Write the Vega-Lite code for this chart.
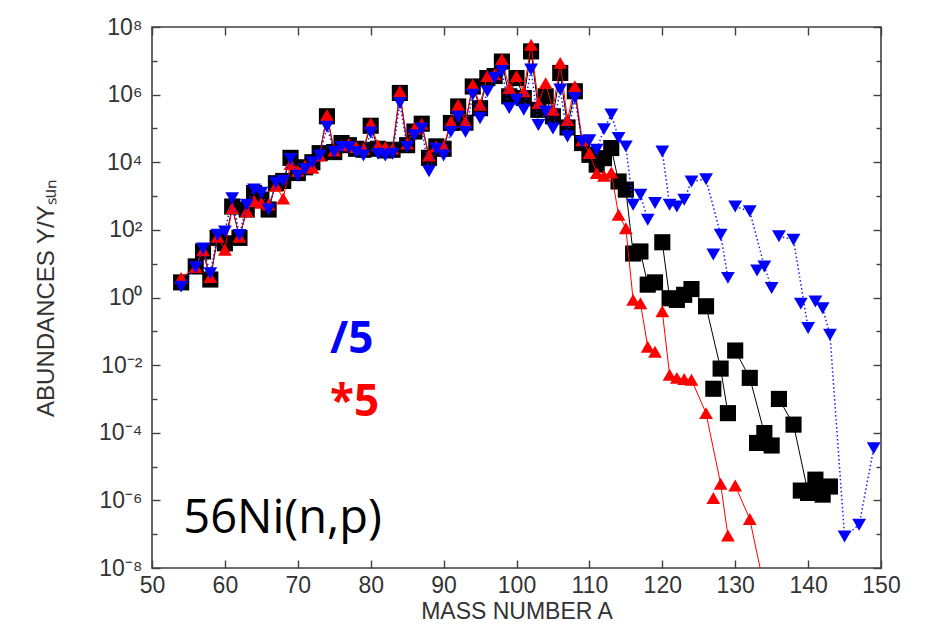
{
  "$schema": "https://vega.github.io/schema/vega-lite/v6.json",
  "width": 729,
  "height": 541,
  "autosize": "none",
  "padding": {"left": 152, "top": 27, "right": 56, "bottom": 61},
  "background": "white",
  "config": {
    "view": {"stroke": "#404040", "strokeWidth": 1.6},
    "font": "Liberation Sans"
  },
  "datasets": {
    "abund": [
      {"A":54,"Y":2.8,"s":"std","c":1},{"A":56,"Y":8.3,"s":"std","c":1},{"A":57,"Y":23,"s":"std","c":1},{"A":58,"Y":3.4,"s":"std","c":1},
      {"A":59,"Y":58,"s":"std","c":1},{"A":60,"Y":40,"s":"std","c":1},{"A":61,"Y":490,"s":"std","c":1},{"A":62,"Y":58,"s":"std","c":1},
      {"A":63,"Y":400,"s":"std","c":1},{"A":64,"Y":1230,"s":"std","c":1},{"A":65,"Y":790,"s":"std","c":1},{"A":66,"Y":400,"s":"std","c":1},
      {"A":67,"Y":2400,"s":"std","c":1},{"A":68,"Y":2800,"s":"std","c":1},{"A":69,"Y":13500,"s":"std","c":1},{"A":70,"Y":4800,"s":"std","c":1},
      {"A":71,"Y":7100,"s":"std","c":1},{"A":72,"Y":10000,"s":"std","c":1},{"A":73,"Y":18600,"s":"std","c":1},{"A":74,"Y":229000,"s":"std","c":1},
      {"A":75,"Y":20000,"s":"std","c":1},{"A":76,"Y":37000,"s":"std","c":1},{"A":77,"Y":32000,"s":"std","c":1},{"A":78,"Y":25000,"s":"std","c":1},
      {"A":79,"Y":23400,"s":"std","c":1},{"A":80,"Y":120000,"s":"std","c":1},{"A":81,"Y":25000,"s":"std","c":1},{"A":82,"Y":22400,"s":"std","c":1},
      {"A":83,"Y":23400,"s":"std","c":1},{"A":84,"Y":1120000,"s":"std","c":1},{"A":85,"Y":32000,"s":"std","c":1},{"A":86,"Y":81000,"s":"std","c":1},
      {"A":87,"Y":138000,"s":"std","c":1},{"A":88,"Y":13500,"s":"std","c":1},{"A":89,"Y":29500,"s":"std","c":1},{"A":90,"Y":25000,"s":"std","c":1},
      {"A":91,"Y":145000,"s":"std","c":1},{"A":92,"Y":447000,"s":"std","c":1},{"A":93,"Y":148000,"s":"std","c":1},{"A":94,"Y":1740000,"s":"std","c":1},
      {"A":95,"Y":398000,"s":"std","c":1},{"A":96,"Y":3090000,"s":"std","c":1},{"A":97,"Y":3550000,"s":"std","c":1},{"A":98,"Y":9500000,"s":"std","c":1},
      {"A":99,"Y":891000,"s":"std","c":1},{"A":100,"Y":3090000,"s":"std","c":1},{"A":101,"Y":794000,"s":"std","c":1},{"A":102,"Y":19000000,"s":"std","c":1},
      {"A":103,"Y":355000,"s":"std","c":1},{"A":104,"Y":891000,"s":"std","c":1},{"A":105,"Y":229000,"s":"std","c":1},{"A":106,"Y":4370000,"s":"std","c":1},
      {"A":107,"Y":107000,"s":"std","c":1},{"A":108,"Y":1260000,"s":"std","c":1},{"A":109,"Y":37000,"s":"std","c":1},{"A":110,"Y":16600,"s":"std","c":1},
      {"A":111,"Y":8500,"s":"std","c":1},{"A":112,"Y":13200,"s":"std","c":1},{"A":113,"Y":26300,"s":"std","c":1},{"A":114,"Y":2700,"s":"std","c":1},
      {"A":115,"Y":1550,"s":"std","c":1},{"A":116,"Y":20,"s":"std","c":1},{"A":117,"Y":23,"s":"std","c":2},{"A":118,"Y":2.4,"s":"std","c":2},
      {"A":119,"Y":2.8,"s":"std","c":3},{"A":120,"Y":43,"s":"std","c":4},{"A":121,"Y":0.95,"s":"std","c":4},{"A":122,"Y":0.85,"s":"std","c":4},
      {"A":123,"Y":1.2,"s":"std","c":4},{"A":124,"Y":1.78,"s":"std","c":4},{"A":126,"Y":0.55,"s":"std","c":4},{"A":127,"Y":0.002,"s":"std","c":5},
      {"A":128,"Y":0.0079,"s":"std","c":4},{"A":129,"Y":0.00038,"s":"std","c":4},{"A":130,"Y":0.027,"s":"std","c":6},{"A":132,"Y":0.0042,"s":"std","c":6},
      {"A":133,"Y":0.00005,"s":"std","c":7},{"A":134,"Y":0.000098,"s":"std","c":6},{"A":135,"Y":0.000042,"s":"std","c":6},{"A":136,"Y":0.001,"s":"std","c":8},
      {"A":138,"Y":0.000174,"s":"std","c":8},{"A":139,"Y":0.00000195,"s":"std","c":9},{"A":140,"Y":0.00000166,"s":"std","c":8},{"A":141,"Y":0.0000041,"s":"std","c":10},
      {"A":142,"Y":0.00000148,"s":"std","c":8},{"A":143,"Y":0.00000257,"s":"std","c":11},

      {"A":54,"Y":3.8,"s":"x5","c":1},{"A":56,"Y":7.9,"s":"x5","c":1},{"A":57,"Y":25,"s":"x5","c":1},{"A":58,"Y":4,"s":"x5","c":1},
      {"A":59,"Y":63,"s":"x5","c":1},{"A":60,"Y":26,"s":"x5","c":1},{"A":61,"Y":440,"s":"x5","c":1},{"A":62,"Y":63,"s":"x5","c":1},
      {"A":63,"Y":355,"s":"x5","c":1},{"A":64,"Y":710,"s":"x5","c":1},{"A":65,"Y":630,"s":"x5","c":1},{"A":66,"Y":560,"s":"x5","c":1},
      {"A":67,"Y":2000,"s":"x5","c":1},{"A":68,"Y":850,"s":"x5","c":1},{"A":69,"Y":8900,"s":"x5","c":1},{"A":70,"Y":5600,"s":"x5","c":1},
      {"A":71,"Y":7900,"s":"x5","c":1},{"A":72,"Y":6900,"s":"x5","c":1},{"A":73,"Y":15800,"s":"x5","c":1},{"A":74,"Y":251000,"s":"x5","c":1},
      {"A":75,"Y":22400,"s":"x5","c":1},{"A":76,"Y":31600,"s":"x5","c":1},{"A":77,"Y":35500,"s":"x5","c":1},{"A":78,"Y":28200,"s":"x5","c":1},
      {"A":79,"Y":25100,"s":"x5","c":1},{"A":80,"Y":141000,"s":"x5","c":1},{"A":81,"Y":31600,"s":"x5","c":1},{"A":82,"Y":28200,"s":"x5","c":1},
      {"A":83,"Y":25100,"s":"x5","c":1},{"A":84,"Y":1260000,"s":"x5","c":1},{"A":85,"Y":35500,"s":"x5","c":1},{"A":86,"Y":100000,"s":"x5","c":1},
      {"A":87,"Y":138000,"s":"x5","c":1},{"A":88,"Y":15800,"s":"x5","c":1},{"A":89,"Y":29500,"s":"x5","c":1},{"A":90,"Y":29500,"s":"x5","c":1},
      {"A":91,"Y":158000,"s":"x5","c":1},{"A":92,"Y":501000,"s":"x5","c":1},{"A":93,"Y":158000,"s":"x5","c":1},{"A":94,"Y":2000000,"s":"x5","c":1},
      {"A":95,"Y":501000,"s":"x5","c":1},{"A":96,"Y":3550000,"s":"x5","c":1},{"A":97,"Y":3980000,"s":"x5","c":1},{"A":98,"Y":11200000,"s":"x5","c":1},
      {"A":99,"Y":1580000,"s":"x5","c":1},{"A":100,"Y":3550000,"s":"x5","c":1},{"A":101,"Y":1260000,"s":"x5","c":1},{"A":102,"Y":30000000,"s":"x5","c":1},
      {"A":103,"Y":562000,"s":"x5","c":1},{"A":104,"Y":2190000,"s":"x5","c":1},{"A":105,"Y":355000,"s":"x5","c":1},{"A":106,"Y":8700000,"s":"x5","c":1},
      {"A":107,"Y":178000,"s":"x5","c":1},{"A":108,"Y":1780000,"s":"x5","c":1},{"A":109,"Y":44700,"s":"x5","c":1},{"A":110,"Y":18600,"s":"x5","c":1},
      {"A":111,"Y":4800,"s":"x5","c":1},{"A":112,"Y":4000,"s":"x5","c":1},{"A":113,"Y":5000,"s":"x5","c":1},{"A":114,"Y":280,"s":"x5","c":1},
      {"A":115,"Y":112,"s":"x5","c":1},{"A":116,"Y":0.85,"s":"x5","c":1},{"A":117,"Y":0.68,"s":"x5","c":2},{"A":118,"Y":0.035,"s":"x5","c":2},
      {"A":119,"Y":0.025,"s":"x5","c":2},{"A":120,"Y":0.39,"s":"x5","c":3},{"A":121,"Y":0.0052,"s":"x5","c":3},{"A":122,"Y":0.0042,"s":"x5","c":3},
      {"A":123,"Y":0.0039,"s":"x5","c":3},{"A":124,"Y":0.0037,"s":"x5","c":3},{"A":126,"Y":0.00038,"s":"x5","c":3},{"A":127,"Y":0.00000117,"s":"x5","c":4},
      {"A":128,"Y":0.0000031,"s":"x5","c":3},{"A":129,"Y":0.000000091,"s":"x5","c":3},{"A":130,"Y":0.00000275,"s":"x5","c":5},{"A":132,"Y":0.00000028,"s":"x5","c":5},
      {"A":134,"Y":0.0000000025,"s":"x5","c":5},

      {"A":54,"Y":2.1,"s":"d5","c":1},{"A":56,"Y":7.9,"s":"d5","c":1},{"A":57,"Y":28,"s":"d5","c":1},{"A":58,"Y":5.2,"s":"d5","c":1},
      {"A":59,"Y":72,"s":"d5","c":1},{"A":60,"Y":89,"s":"d5","c":1},{"A":61,"Y":870,"s":"d5","c":1},{"A":62,"Y":71,"s":"d5","c":1},
      {"A":63,"Y":550,"s":"d5","c":1},{"A":64,"Y":1580,"s":"d5","c":1},{"A":65,"Y":1260,"s":"d5","c":1},{"A":66,"Y":400,"s":"d5","c":1},
      {"A":67,"Y":2500,"s":"d5","c":1},{"A":68,"Y":2800,"s":"d5","c":1},{"A":69,"Y":12600,"s":"d5","c":1},{"A":70,"Y":4000,"s":"d5","c":1},
      {"A":71,"Y":6300,"s":"d5","c":1},{"A":72,"Y":10000,"s":"d5","c":1},{"A":73,"Y":15800,"s":"d5","c":1},{"A":74,"Y":112000,"s":"d5","c":1},
      {"A":75,"Y":20000,"s":"d5","c":1},{"A":76,"Y":28200,"s":"d5","c":1},{"A":77,"Y":28200,"s":"d5","c":1},{"A":78,"Y":20000,"s":"d5","c":1},
      {"A":79,"Y":15800,"s":"d5","c":1},{"A":80,"Y":76000,"s":"d5","c":1},{"A":81,"Y":17800,"s":"d5","c":1},{"A":82,"Y":15800,"s":"d5","c":1},
      {"A":83,"Y":17800,"s":"d5","c":1},{"A":84,"Y":562000,"s":"d5","c":1},{"A":85,"Y":28200,"s":"d5","c":1},{"A":86,"Y":63000,"s":"d5","c":1},
      {"A":87,"Y":100000,"s":"d5","c":1},{"A":88,"Y":5400,"s":"d5","c":1},{"A":89,"Y":25100,"s":"d5","c":1},{"A":90,"Y":15800,"s":"d5","c":1},
      {"A":91,"Y":79000,"s":"d5","c":1},{"A":92,"Y":224000,"s":"d5","c":1},{"A":93,"Y":79000,"s":"d5","c":1},{"A":94,"Y":1000000,"s":"d5","c":1},
      {"A":95,"Y":200000,"s":"d5","c":1},{"A":96,"Y":1260000,"s":"d5","c":1},{"A":97,"Y":3160000,"s":"d5","c":1},{"A":98,"Y":5000000,"s":"d5","c":1},
      {"A":99,"Y":398000,"s":"d5","c":1},{"A":100,"Y":708000,"s":"d5","c":1},{"A":101,"Y":355000,"s":"d5","c":1},{"A":102,"Y":5500000,"s":"d5","c":1},
      {"A":103,"Y":126000,"s":"d5","c":1},{"A":104,"Y":316000,"s":"d5","c":1},{"A":105,"Y":100000,"s":"d5","c":1},{"A":106,"Y":1410000,"s":"d5","c":1},
      {"A":107,"Y":57500,"s":"d5","c":1},{"A":108,"Y":794000,"s":"d5","c":1},{"A":109,"Y":39800,"s":"d5","c":1},{"A":110,"Y":44700,"s":"d5","c":1},
      {"A":111,"Y":23400,"s":"d5","c":1},{"A":112,"Y":95500,"s":"d5","c":1},{"A":113,"Y":257000,"s":"d5","c":1},{"A":114,"Y":52500,"s":"d5","c":1},
      {"A":115,"Y":29500,"s":"d5","c":1},{"A":116,"Y":550,"s":"d5","c":1},{"A":117,"Y":1100,"s":"d5","c":2},{"A":118,"Y":200,"s":"d5","c":2},
      {"A":119,"Y":620,"s":"d5","c":3},{"A":120,"Y":20900,"s":"d5","c":4},{"A":121,"Y":550,"s":"d5","c":4},{"A":122,"Y":490,"s":"d5","c":4},
      {"A":123,"Y":780,"s":"d5","c":4},{"A":124,"Y":2700,"s":"d5","c":4},{"A":126,"Y":3160,"s":"d5","c":4},{"A":127,"Y":18.6,"s":"d5","c":5},
      {"A":128,"Y":72,"s":"d5","c":4},{"A":129,"Y":3.8,"s":"d5","c":4},{"A":130,"Y":490,"s":"d5","c":6},{"A":132,"Y":355,"s":"d5","c":6},
      {"A":133,"Y":6.3,"s":"d5","c":7},{"A":134,"Y":8.3,"s":"d5","c":6},{"A":135,"Y":1.9,"s":"d5","c":6},{"A":136,"Y":65,"s":"d5","c":8},
      {"A":138,"Y":51,"s":"d5","c":8},{"A":139,"Y":0.66,"s":"d5","c":9},{"A":140,"Y":0.126,"s":"d5","c":8},{"A":141,"Y":0.76,"s":"d5","c":10},
      {"A":142,"Y":0.48,"s":"d5","c":11},{"A":143,"Y":0.079,"s":"d5","c":11},{"A":145,"Y":0.000000085,"s":"d5","c":11},{"A":147,"Y":0.00000019,"s":"d5","c":11},
      {"A":149,"Y":0.000035,"s":"d5","c":11}
    ]
  },
  "data": {"name": "abund"},
  "layer": [
    {
      "transform": [{"filter": "datum.s === 'std'"}],
      "mark": {"type": "line", "color": "#000000", "strokeWidth": 1, "clip": true},
      "encoding": {
        "x": {
          "field": "A", "type": "quantitative",
          "scale": {"domain": [50, 150], "nice": false, "zero": false},
          "axis": {
            "orient": "bottom",
            "values": [50, 60, 70, 80, 90, 100, 110, 120, 130, 140, 150],
            "domain": false, "grid": false,
            "tickSize": -8, "tickColor": "#404040", "tickWidth": 1.4,
            "labelFont": "Liberation Sans", "labelFontSize": 23, "labelColor": "#333333",
            "labelPadding": 14, "labelFlush": false, "labelOverlap": false,
            "title": "MASS NUMBER A",
            "titleFont": "Liberation Sans", "titleFontSize": 23, "titleFontWeight": "normal",
            "titleColor": "#333333", "titlePadding": 3
          }
        },
        "y": {
          "field": "Y", "type": "quantitative",
          "scale": {"type": "log", "domain": [1e-8, 1e8], "nice": false},
          "axis": {
            "orient": "left",
            "values": [1e-8, 1e-7, 1e-6, 1e-5, 1e-4, 1e-3, 1e-2, 1e-1, 1, 10, 100, 1000, 1e4, 1e5, 1e6, 1e7, 1e8],
            "domain": false, "grid": false,
            "tickSize": {"condition": {"test": "round(log(datum.value)/LN10) % 2 !== 0", "value": -5}, "value": -8},
            "tickColor": "#404040", "tickWidth": 1.4,
            "labelExpr": "(round(log(datum.value)/LN10) % 2 !== 0) ? '' : '10' + ['⁻⁸','⁻⁶','⁻⁴','⁻²','⁰','²','⁴','⁶','⁸'][(round(log(datum.value)/LN10) + 8) / 2]",
            "labelFont": "Liberation Sans", "labelFontSize": 23, "labelColor": "#333333",
            "labelPadding": 18, "labelOverlap": false, "labelFlush": false,
            "title": "ABUNDANCES Y/Yₛᵤₙ",
            "titleFont": "Liberation Sans", "titleFontSize": 24, "titleFontWeight": "normal",
            "titleColor": "#333333", "titlePadding": 40
          }
        },
        "detail": {"field": "c"}
      }
    },
    {
      "transform": [{"filter": "datum.s === 'std'"}],
      "mark": {"type": "point", "shape": "square", "filled": true, "color": "#000000", "size": 260, "opacity": 1, "clip": true},
      "encoding": {
        "x": {
          "field": "A", "type": "quantitative",
          "axis": {"orient": "top", "values": [50, 60, 70, 80, 90, 100, 110, 120, 130, 140, 150], "domain": false, "grid": false, "labels": false, "title": null, "tickSize": -8, "tickColor": "#404040", "tickWidth": 1.4}
        },
        "y": {
          "field": "Y", "type": "quantitative",
          "axis": {"orient": "right", "values": [1e-8, 1e-7, 1e-6, 1e-5, 1e-4, 1e-3, 1e-2, 1e-1, 1, 10, 100, 1000, 1e4, 1e5, 1e6, 1e7, 1e8], "domain": false, "grid": false, "labels": false, "title": null,
            "tickSize": {"condition": {"test": "round(log(datum.value)/LN10) % 2 !== 0", "value": -5}, "value": -8},
            "tickColor": "#404040", "tickWidth": 1.4}
        }
      }
    },
    {
      "transform": [{"filter": "datum.s === 'x5'"}],
      "mark": {"type": "line", "color": "#ff0000", "strokeWidth": 1, "clip": true},
      "encoding": {
        "x": {"field": "A", "type": "quantitative", "axis": null},
        "y": {"field": "Y", "type": "quantitative", "axis": null},
        "detail": {"field": "c"}
      }
    },
    {
      "transform": [{"filter": "datum.s === 'x5'"}],
      "mark": {"type": "point", "shape": "triangle-up", "filled": true, "color": "#ff0000", "size": 190, "opacity": 1, "clip": true},
      "encoding": {
        "x": {"field": "A", "type": "quantitative", "axis": null},
        "y": {"field": "Y", "type": "quantitative", "axis": null}
      }
    },
    {
      "transform": [{"filter": "datum.s === 'd5'"}],
      "mark": {"type": "line", "color": "#1a1aff", "strokeWidth": 1.5, "strokeDash": [1.5, 2.5], "clip": true},
      "encoding": {
        "x": {"field": "A", "type": "quantitative", "axis": null},
        "y": {"field": "Y", "type": "quantitative", "axis": null},
        "detail": {"field": "c"}
      }
    },
    {
      "transform": [{"filter": "datum.s === 'd5'"}],
      "mark": {"type": "point", "shape": "triangle-down", "filled": true, "color": "#0000ff", "size": 190, "opacity": 1, "clip": true},
      "encoding": {
        "x": {"field": "A", "type": "quantitative", "axis": null},
        "y": {"field": "Y", "type": "quantitative", "axis": null}
      }
    },
    {
      "data": {"values": [{"A": 77.4, "Y": 0.0228, "note": "/5"}]},
      "mark": {"type": "text", "font": "Open Sans", "fontWeight": "bold", "fontSize": 44, "color": "#0000ff", "align": "center", "baseline": "alphabetic"},
      "encoding": {
        "x": {"field": "A", "type": "quantitative", "axis": null},
        "y": {"field": "Y", "type": "quantitative", "axis": null},
        "text": {"field": "note"}
      }
    },
    {
      "data": {"values": [{"A": 77.8, "Y": 0.000304, "note": "*5"}]},
      "mark": {"type": "text", "font": "Open Sans", "fontWeight": "bold", "fontSize": 44, "color": "#ff0000", "align": "center", "baseline": "alphabetic"},
      "encoding": {
        "x": {"field": "A", "type": "quantitative", "axis": null},
        "y": {"field": "Y", "type": "quantitative", "axis": null},
        "text": {"field": "note"}
      }
    },
    {
      "data": {"values": [{"A": 54.3, "Y": 1.08e-7, "note": "56Ni(n,p)"}]},
      "mark": {"type": "text", "font": "Open Sans", "fontSize": 47, "color": "#000000", "align": "left", "baseline": "alphabetic"},
      "encoding": {
        "x": {"field": "A", "type": "quantitative", "axis": null},
        "y": {"field": "Y", "type": "quantitative", "axis": null},
        "text": {"field": "note"}
      }
    }
  ],
  "resolve": {"axis": {"x": "independent", "y": "independent"}}
}
